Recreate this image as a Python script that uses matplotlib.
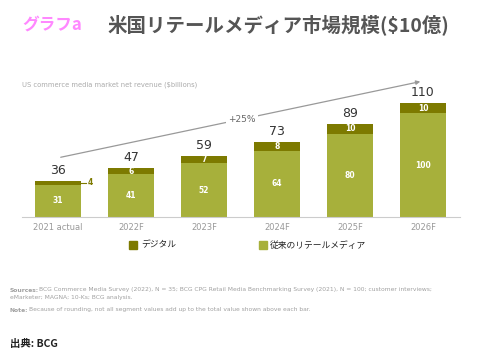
import matplotlib.pyplot as plt
import numpy as np

plt.rcParams['font.family'] = ['Noto Sans CJK JP', 'DejaVu Sans']

years = ['2021 actual', '2022F', '2023F', '2024F', '2025F', '2026F']
legacy = [31, 41, 52, 64, 80, 100]
digital = [4, 6, 7, 8, 10, 10]
totals = [36, 47, 59, 73, 89, 110]

c_dig = '#7d7a00'
c_leg = '#a7b03b'

W, H = 478, 359
fig = plt.figure(figsize=(W / 100, H / 100), dpi=100)

# axes placed in pixel terms
l, r, t, b = 22, 460, 80, 217
ax = fig.add_axes([l / W, 1 - b / H, (r - l) / W, (b - t) / H])
x = np.arange(len(years))
ax.bar(x, legacy, width=0.63, color=c_leg, edgecolor='none')
ax.bar(x, digital, width=0.63, bottom=legacy, color=c_dig, edgecolor='none')
ax.set_xlim(-0.493, 5.507)
ax.set_ylim(0, 132)

for i in range(len(years)):
    ax.text(x[i], legacy[i] / 2, str(legacy[i]), ha='center', va='center',
            color='white', fontsize=5.5, fontweight='bold', family='DejaVu Sans')
    ax.text(x[i], legacy[i] + digital[i] + 10, str(totals[i]), ha='center', va='center',
            color='#333333', fontsize=9, family='DejaVu Sans')
    if i > 0:
        ax.text(x[i], legacy[i] + digital[i] / 2, str(digital[i]), ha='center',
                va='center', color='white', fontsize=5.5, fontweight='bold',
                family='DejaVu Sans')

# small leader label for 2021 digital
ax.plot([0.315, 0.39], [legacy[0] + 2, legacy[0] + 2], color=c_dig, lw=0.8)
ax.text(0.41, legacy[0] + 2, str(digital[0]), ha='left', va='center',
        color=c_dig, fontsize=5.5, fontweight='bold', family='DejaVu Sans')

# CAGR arrow
ax.annotate('', xy=(5.0, 131), xytext=(0.0, 57),
            arrowprops=dict(arrowstyle='-|>', color='#999999', lw=0.9,
                            mutation_scale=6), annotation_clip=False)
ax.text(2.52, 94, '+25%', ha='center', va='center', fontsize=6.5,
        color='#666666', family='DejaVu Sans',
        bbox=dict(facecolor='white', edgecolor='none', pad=1.5))

ax.set_xticks(x)
ax.set_xticklabels(years, fontsize=6, color='#999999', family='DejaVu Sans')
ax.tick_params(axis='x', length=0, pad=4)
ax.set_yticks([])
for s in ['top', 'right', 'left']:
    ax.spines[s].set_visible(False)
ax.spines['bottom'].set_color('#cccccc')
ax.spines['bottom'].set_linewidth(0.8)

fig.text(22 / W, 1 - 85 / H, 'US commerce media market net revenue ($billions)',
         fontsize=4.9, color='#aaaaaa', va='center', family='DejaVu Sans')

# titles
fig.text(22 / W, 1 - 25 / H, 'グラフa', fontsize=12, color='#ff88ff',
         fontweight='bold', va='center')
fig.text(107 / W, 1 - 25 / H, '米国リテールメディア市場規模($10億)', fontsize=14,
         color='#555555', fontweight='bold', va='center')

# legend
fig.patches.append(plt.Rectangle((129 / W, 1 - 249 / H), 8 / W, 8 / H,
                                 transform=fig.transFigure, color=c_dig))
fig.text(141 / W, 1 - 245 / H, 'デジタル', fontsize=6.3, color='#222222', va='center')
fig.patches.append(plt.Rectangle((259 / W, 1 - 249 / H), 8 / W, 8 / H,
                                 transform=fig.transFigure, color=c_leg))
fig.text(270 / W, 1 - 245 / H, '従来のリテールメディア', fontsize=6.3, color='#222222',
         va='center')

# sources
src = dict(fontsize=4.3, color='#a0a0a0', va='center', family='DejaVu Sans')
fig.text(10 / W, 1 - 290 / H, 'Sources:', fontweight='bold', **src)
fig.text(39 / W, 1 - 290 / H,
         'BCG Commerce Media Survey (2022), N = 35; BCG CPG Retail Media '
         'Benchmarking Survey (2021), N = 100; customer interviews;', **src)
fig.text(10 / W, 1 - 297 / H, 'eMarketer; MAGNA; 10-Ks; BCG analysis.', **src)
fig.text(10 / W, 1 - 310 / H, 'Note:', fontweight='bold', **src)
fig.text(29 / W, 1 - 310 / H,
         'Because of rounding, not all segment values add up to the '
         'total value shown above each bar.', **src)

fig.text(10 / W, 1 - 344 / H, '出典: BCG', fontsize=7.5, color='#222222',
         va='center', fontweight='bold')

fig.savefig('out.png', dpi=100)
